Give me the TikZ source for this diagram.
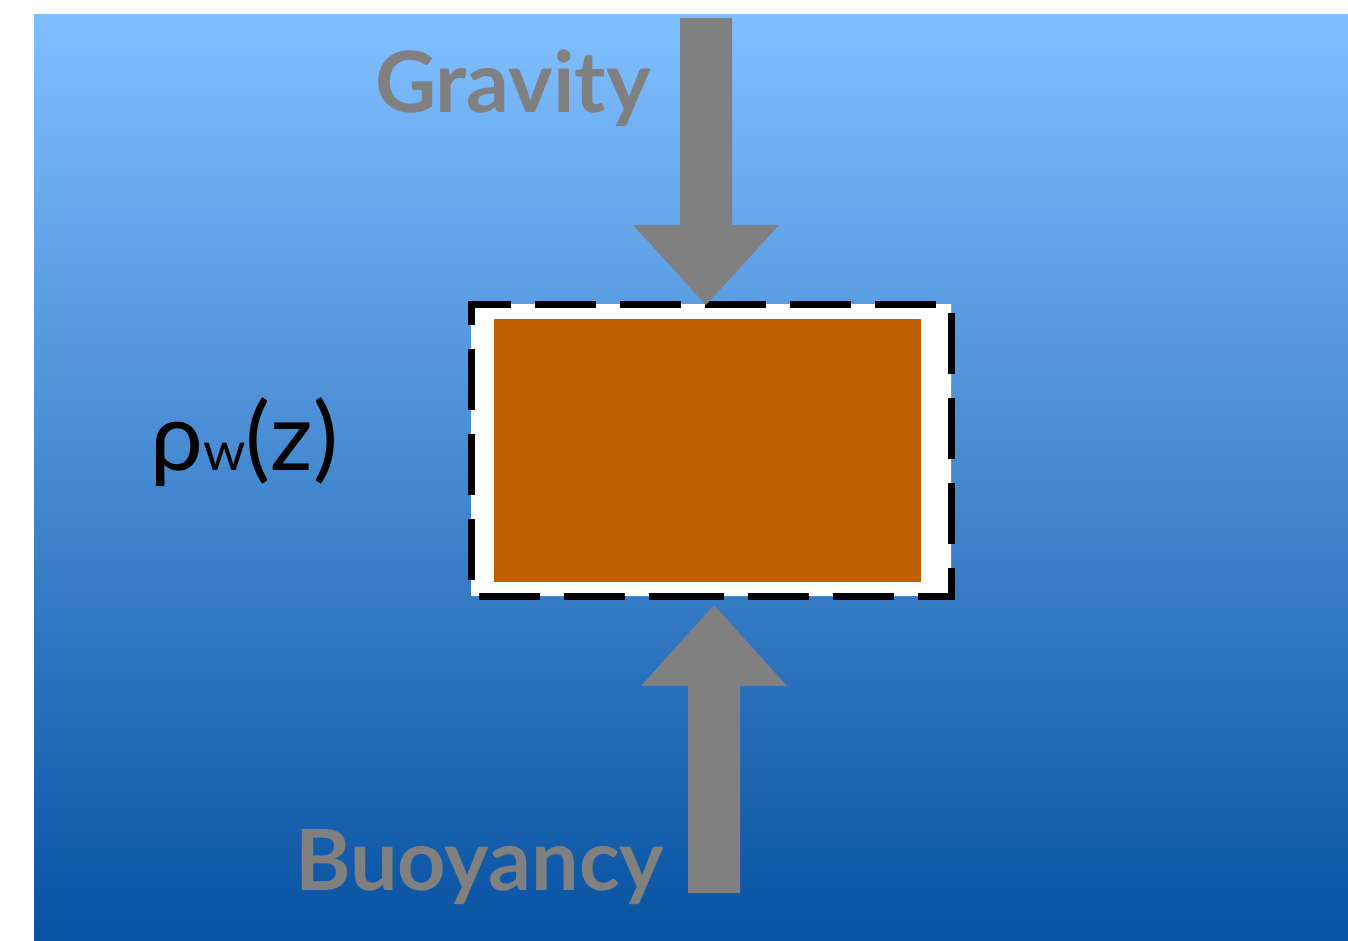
\documentclass[tikz,border=0pt]{standalone}
\usepackage{fontspec}
\setmainfont{Lato}
\usepackage{tikz}
\usepackage{xcolor}
\definecolor{waterTop}{RGB}{128,191,255}
\definecolor{waterBottom}{RGB}{8,82,162}
\definecolor{blockOrange}{RGB}{192,96,0}
\definecolor{forceGray}{RGB}{128,128,128}

\begin{document}
\begin{tikzpicture}[x=1pt, y=-1pt,
    force/.style={fill=forceGray, draw=none},
    forcelabel/.style={text=forceGray, font=\fontsize{84.5}{84.5}\selectfont\bfseries, inner sep=0pt, anchor=base west}]
    \useasboundingbox (0,0) rectangle (1348,941);
    % Water column
    \shade[top color=waterTop, bottom color=waterBottom] (34,15) rectangle (1348,941);
    % Control volume
    \draw[fill=white, line width=7pt, dash pattern=on 61pt off 24pt, dash phase=43pt]
        (667,596) -- (471,596) -- (471,304) -- (951,304) -- (951,596) -- cycle;
    \node[fill=blockOrange, minimum width=427pt, minimum height=263pt, inner sep=0pt] (block) at (707.5,450.5) {};
    % Gravity
    \fill[force] (680,18) -- (732,18) -- (732,225) -- (779,225) -- (706,305) -- (633,225) -- (680,225) -- cycle;
    \node[forcelabel] (gravity) at (375,113) {Gravity};
    % Buoyancy
    \fill[force] (688,893) -- (740,893) -- (740,686) -- (787,686) -- (714,605) -- (641,686) -- (688,686) -- cycle;
    \node[forcelabel] (buoyancy) at (295,890) {Buoyancy};
    % Water density
    \node[anchor=base west, inner sep=0pt, font=\fontsize{94}{94}\selectfont] (rho) at (150,470)
        {ρ{\fontsize{54}{54}\selectfont w}(z)};
\end{tikzpicture}
\end{document}
